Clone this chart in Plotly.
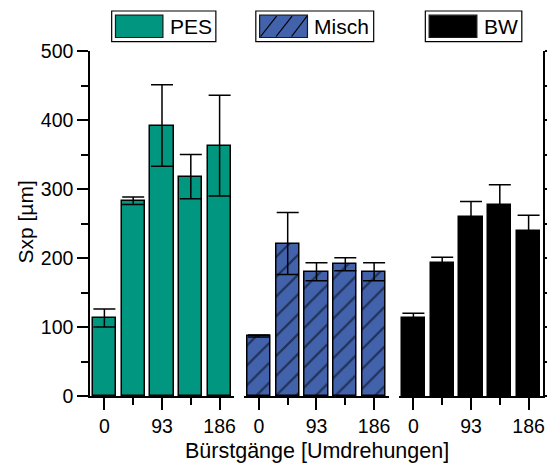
import plotly.graph_objects as go

# Bar positions within each group and their tick labels
positions = [1, 2, 3, 4, 5]
tick_positions = [1, 3, 5]
tick_labels = ["0", "93", "186"]

# Sxp values [µm] and their standard deviations
pes_values = [113, 283, 392, 318, 363]
pes_errors = [13, 5.5, 59, 32, 73]
misch_values = [87, 221, 180, 191, 180]
misch_errors = [1.5, 45, 13, 9.5, 13]
bw_values = [113, 193, 259, 277, 239]
bw_errors = [7, 8, 23, 29, 23]

group_names = ["PES", "Misch", "BW"]

TEAL = "#00967F"
BLUE = "#4262AC"
BLACK = "#000000"
FONT = "Arial, Liberation Sans, sans-serif"

W, H = 547, 464
L, R, T, B = 90, 543.5, 51, 396


def px(x):
    return (x - L) / (R - L)


def py(y):
    return (B - y) / (B - T)


def err(vals):
    return dict(type="data", array=vals, visible=True, color=BLACK,
                thickness=1.5, width=11)


fig = go.Figure()
fig.add_bar(x=positions, y=pes_values, error_y=err(pes_errors), width=0.8,
            marker=dict(color=TEAL, line=dict(color=BLACK, width=1.5)),
            xaxis="x", yaxis="y", name=group_names[0], showlegend=False)
fig.add_bar(x=positions, y=misch_values, error_y=err(misch_errors), width=0.8,
            marker=dict(color=BLUE, line=dict(color=BLACK, width=1.5),
                        pattern=dict(shape="/", size=14, solidity=0.16,
                                     fgcolor=BLACK, bgcolor=BLUE)),
            xaxis="x2", yaxis="y", name=group_names[1], showlegend=False)
fig.add_bar(x=positions, y=bw_values, error_y=err(bw_errors), width=0.8,
            marker=dict(color=BLACK, line=dict(color=BLACK, width=1.5)),
            xaxis="x3", yaxis="y", name=group_names[2], showlegend=False)
# empty trace that carries the right-hand frame axis
fig.add_scatter(x=[None], y=[None], xaxis="x3", yaxis="y2",
                showlegend=False, hoverinfo="skip")

gap = 10.5
pw = ((R - L) - 2 * gap) / 3
domains = []
for i in range(3):
    a = L + i * (pw + gap)
    domains.append([px(a), min(1.0, px(a + pw))])

xcommon = dict(range=[0.5, 5.5], tickmode="array", tickvals=tick_positions,
               ticktext=tick_labels, ticks="outside", ticklen=12, tickwidth=1.5,
               tickcolor=BLACK, showline=True, linecolor=BLACK, linewidth=1.5,
               showgrid=False, zeroline=False, anchor="y", automargin=False,
               tickfont=dict(family=FONT, size=19.5, color=BLACK),
               minor=dict(tickmode="array", tickvals=[2, 4], ticks="outside",
                          ticklen=7, tickwidth=1.5, tickcolor=BLACK))

ycommon = dict(range=[0, 500], dtick=100, ticks="outside", ticklen=11,
               tickwidth=1.5, tickcolor=BLACK, showline=True, linecolor=BLACK,
               linewidth=1.5, showgrid=False, zeroline=False, automargin=False,
               minor=dict(dtick=50, ticks="outside", ticklen=7, tickwidth=1.5,
                          tickcolor=BLACK))

fig.update_layout(
    width=W, height=H,
    margin=dict(l=L, r=W - R, t=T, b=H - B, pad=0, autoexpand=False),
    paper_bgcolor="white", plot_bgcolor="white",
    font=dict(family=FONT, size=19.5, color=BLACK),
    bargap=0,
    xaxis=dict(domain=domains[0], **xcommon),
    xaxis2=dict(domain=domains[1], **xcommon),
    xaxis3=dict(domain=domains[2], **xcommon),
    yaxis=dict(anchor="x", tickfont=dict(family=FONT, size=19.5, color=BLACK),
               **ycommon),
    yaxis2=dict(anchor="x3", overlaying="y", side="right",
                showticklabels=False, **ycommon),
)

# axis titles
fig.add_annotation(text="Sxp [µm]", xref="paper", yref="paper",
                   x=px(24.5), y=py(222), xanchor="center", yanchor="middle",
                   textangle=-90, showarrow=False,
                   font=dict(family=FONT, size=21, color=BLACK))
fig.add_annotation(text="Bürstgänge [Umdrehungen]", xref="paper", yref="paper",
                   x=0.5, y=py(451), xanchor="center", yanchor="middle",
                   showarrow=False, font=dict(family=FONT, size=21.5, color=BLACK))

# legend boxes above each group
legend_items = [
    # box x0, box x1, swatch x1, fill
    (111.7, 216.0, 163.0, TEAL),
    (256.0, 374.0, 307.7, BLUE),
    (425.7, 522.3, 477.3, BLACK),
]
for name, (bx0, bx1, sx1, fill) in zip(group_names, legend_items):
    fig.add_shape(type="rect", xref="paper", yref="paper",
                  x0=px(bx0), x1=px(bx1), y0=py(41.7), y1=py(11),
                  line=dict(color=BLACK, width=1.2), fillcolor="white")
    sx0 = bx0 + 3.8
    fig.add_shape(type="rect", xref="paper", yref="paper",
                  x0=px(sx0), x1=px(sx1), y0=py(37.5), y1=py(15.2),
                  line=dict(color="#1a1a1a", width=1.2), fillcolor=fill)
    if name == "Misch":
        for k in range(3):
            xa = sx0 + 1 + k * 15.5
            fig.add_shape(type="line", xref="paper", yref="paper",
                          x0=px(xa), y0=py(36.5), x1=px(min(xa + 16, sx1 - 0.5)),
                          y1=py(16.2), line=dict(color=BLACK, width=1.2))
    fig.add_annotation(text=name, xref="paper", yref="paper",
                       x=px(sx1 + 5), y=py(26.5), xanchor="left", yanchor="middle",
                       showarrow=False,
                       font=dict(family=FONT, size=21, color=BLACK))

fig.write_html("out.html")
